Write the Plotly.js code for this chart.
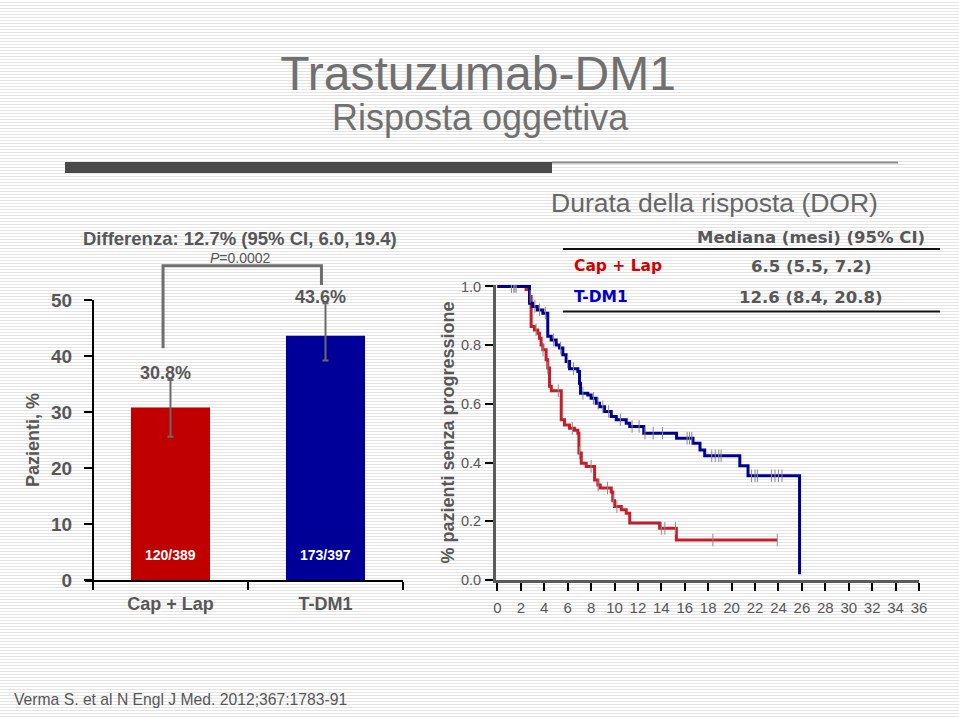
<!DOCTYPE html>
<html><head><meta charset="utf-8">
<script src="https://cdn.plot.ly/plotly-3.0.1.min.js"></script>
<style>
html,body{margin:0;padding:0;background:#fff;}
#chart{width:959px;height:717px;background:repeating-linear-gradient(to bottom,#ffffff 0px,#ffffff 2px,#e4e4e4 2px,#e4e4e4 3px);}
</style></head><body><div id="chart"></div>
<script>
// ---------- data ----------
const barCategories = ['Cap + Lap', 'T-DM1'];
const responseRate = [30.8, 43.6];
const ciUpper = [35.7, 49.4];
const ciLower = [25.6, 39.2];
const responders = [120, 173];
const totals = [389, 397];
const barColors = ['#C00000', '#000099'];
const leftTicks = [0, 10, 20, 30, 40, 50];

const kmGroups = ['Cap + Lap', 'T-DM1'];
const kmColors = ['#C41E2A', '#00008C'];
const kmLegendColors = ['#D40000', '#0000C8'];
const medianMonths = [6.5, 12.6];
const medianCiLow = [5.5, 8.4];
const medianCiHigh = [7.2, 20.8];

const capLapTime = [0, 2.2, 2.45, 2.74, 2.88, 3.16, 3.45, 3.59, 3.73, 3.88, 4.16, 4.3, 4.45, 4.6, 5.45, 5.73, 6.16, 6.58, 6.87, 6.96, 7.16, 7.58, 8.3, 8.58, 8.78, 9.72, 9.85, 10.0, 10.58, 11.0, 11.3, 13.85, 15.28, 23.9];
const capLapSurv = [1.0, 1.0, 0.99, 0.966, 0.864, 0.852, 0.841, 0.824, 0.801, 0.784, 0.75, 0.722, 0.66, 0.645, 0.546, 0.528, 0.517, 0.51, 0.50, 0.433, 0.398, 0.387, 0.341, 0.324, 0.313, 0.30, 0.27, 0.25, 0.239, 0.227, 0.194, 0.176, 0.136, 0.136];
const capLapCensor = [1.2, 1.5, 2.8, 3.3, 3.9, 4.3, 5.2, 6.4, 7.0, 8.0, 8.6, 9.4, 9.9, 10.2, 14.0, 14.3, 15.2, 18.4, 23.9];

const tdm1Time = [0, 2.74, 3.02, 3.4, 3.88, 4.3, 4.59, 5.02, 5.3, 5.59, 5.87, 6.16, 6.87, 7.01, 7.1, 7.72, 8.0, 8.44, 8.72, 9.15, 9.72, 10.15, 11.0, 11.3, 12.5, 15.3, 16.7, 17.3, 17.7, 20.7, 21.4, 25.8];
const tdm1Surv = [1.0, 0.943, 0.932, 0.92, 0.909, 0.83, 0.818, 0.801, 0.79, 0.767, 0.744, 0.72, 0.71, 0.67, 0.636, 0.63, 0.619, 0.602, 0.59, 0.574, 0.557, 0.546, 0.534, 0.523, 0.50, 0.483, 0.466, 0.443, 0.423, 0.389, 0.355, 0.02];
const tdm1Censor = [1.2, 1.4, 1.6, 3.2, 3.6, 4.1, 4.8, 5.4, 6.0, 6.5, 7.3, 8.2, 8.6, 9.0, 9.5, 10.5, 11.5, 12.1, 12.6, 13.3, 14.1, 16.2, 16.4, 16.6, 18.3, 18.6, 18.9, 19.1, 21.7, 22.0, 22.2, 23.4, 23.7, 24.0, 24.3];

const kmMonthTicks = [0, 2, 4, 6, 8, 10, 12, 14, 16, 18, 20, 22, 24, 26, 28, 30, 32, 34, 36];
const kmSurvTicks = [0, 0.2, 0.4, 0.6, 0.8, 1.0];

// ---------- helpers ----------
const W = 959, H = 717;
const px = x => x / W;
const py = y => 1 - y / H;
function stepAt(times, surv, t) {
  let v = surv[0];
  for (let i = 0; i < times.length; i++) { if (times[i] <= t) v = surv[i]; }
  return v;
}
const leftDom = [py(580), py(300)];
const leftY = v => leftDom[0] + v / 50 * (leftDom[1] - leftDom[0]);

const gray = '#575757';
const arial = 'Liberation Sans, Arial, sans-serif';
const verdana = 'DejaVu Sans, Verdana, sans-serif';

// ---------- traces ----------
const traces = [
  {
    type: 'bar', x: [0, 1], y: responseRate, width: 0.51,
    marker: { color: barColors },
    error_y: {
      type: 'data', symmetric: false,
      array: responseRate.map((v, i) => ciUpper[i] - v),
      arrayminus: responseRate.map((v, i) => v - ciLower[i]),
      color: '#6a6a6a', thickness: 2, width: 3
    },
    xaxis: 'x', yaxis: 'y', hoverinfo: 'skip', showlegend: false
  },
  {
    type: 'scatter', mode: 'lines', x: capLapTime, y: capLapSurv,
    line: { shape: 'hv', color: kmColors[0], width: 3 },
    xaxis: 'x2', yaxis: 'y2', name: kmGroups[0], showlegend: false
  },
  {
    type: 'scatter', mode: 'lines', x: tdm1Time, y: tdm1Surv,
    line: { shape: 'hv', color: kmColors[1], width: 3 },
    xaxis: 'x2', yaxis: 'y2', name: kmGroups[1], showlegend: false
  },
  {
    type: 'scatter', mode: 'markers', x: capLapCensor,
    y: capLapCensor.map(t => stepAt(capLapTime, capLapSurv, t)),
    marker: { symbol: 'line-ns', size: 9, line: { color: '#8c8c8c', width: 1 } },
    xaxis: 'x2', yaxis: 'y2', showlegend: false, hoverinfo: 'skip'
  },
  {
    type: 'scatter', mode: 'markers', x: tdm1Censor,
    y: tdm1Censor.map(t => stepAt(tdm1Time, tdm1Surv, t)),
    marker: { symbol: 'line-ns', size: 9, line: { color: '#8c8c8c', width: 1 } },
    xaxis: 'x2', yaxis: 'y2', showlegend: false, hoverinfo: 'skip'
  }
];

// ---------- annotations ----------
const annotations = [
  { text: 'Risposta oggettiva', xref: 'paper', yref: 'paper', x: px(480), y: py(118), xanchor: 'center', yanchor: 'middle', showarrow: false, font: { family: arial, size: 36, color: '#707070' } },
  { text: '<b>Differenza: 12.7% (95% CI, 6.0, 19.4)</b>', xref: 'paper', yref: 'paper', x: px(240), y: py(239), xanchor: 'center', yanchor: 'middle', showarrow: false, font: { family: arial, size: 18.5, color: gray } },
  { text: '<i>P</i>=0.0002', xref: 'paper', yref: 'paper', x: px(240), y: py(258), xanchor: 'center', yanchor: 'middle', showarrow: false, font: { family: arial, size: 14, color: gray } },
  { text: 'Durata della risposta (DOR)', xref: 'paper', yref: 'paper', x: px(714), y: py(203), xanchor: 'center', yanchor: 'middle', showarrow: false, font: { family: arial, size: 26.5, color: '#666' } },
  { text: '<b>Mediana (mesi) (95% CI)</b>', xref: 'paper', yref: 'paper', x: px(811), y: py(238), xanchor: 'center', yanchor: 'middle', showarrow: false, font: { family: verdana, size: 16.5, color: gray } },
  { text: 'Verma S. et al N Engl J Med. 2012;367:1783-91', xref: 'paper', yref: 'paper', x: px(12), y: py(699), xanchor: 'left', yanchor: 'middle', showarrow: false, font: { family: arial, size: 15.7, color: gray } }
];
responseRate.forEach((v, i) => {
  annotations.push({ text: '<b>' + v.toFixed(1) + '%</b>', xref: 'x', yref: 'paper', x: i - 0.03, y: leftY(ciUpper[i] + 1.2), xanchor: 'center', yanchor: 'middle', showarrow: false, font: { family: arial, size: 18, color: gray } });
  annotations.push({ text: '<b>' + responders[i] + '/' + totals[i] + '</b>', xref: 'x', yref: 'paper', x: i, y: leftY(4.5), xanchor: 'center', yanchor: 'middle', showarrow: false, font: { family: arial, size: 14, color: '#ffffff' } });
});
const rowY = [266, 297];
kmGroups.forEach((g, i) => {
  annotations.push({ text: '<b>' + g + '</b>', xref: 'paper', yref: 'paper', x: px(572), y: py(rowY[i]), xanchor: 'left', yanchor: 'middle', showarrow: false, font: { family: verdana, size: 15.5, color: kmLegendColors[i] } });
  annotations.push({ text: '<b>' + medianMonths[i].toFixed(1) + ' (' + medianCiLow[i].toFixed(1) + ', ' + medianCiHigh[i].toFixed(1) + ')</b>', xref: 'paper', yref: 'paper', x: px(811), y: py(rowY[i]), xanchor: 'center', yanchor: 'middle', showarrow: false, font: { family: verdana, size: 16.5, color: gray } });
});

// ---------- shapes ----------
const bL = -0.048, bR = 0.974;
const shapes = [
  { type: 'rect', xref: 'paper', yref: 'paper', x0: px(65), x1: px(552), y0: py(173), y1: py(162), fillcolor: '#4a4a4a', line: { width: 0 } },
  { type: 'line', xref: 'paper', yref: 'paper', x0: px(552), x1: px(898), y0: py(162.5), y1: py(162.5), line: { color: '#8c8c8c', width: 2 } },
  { type: 'line', xref: 'paper', yref: 'paper', x0: px(563), x1: px(940), y0: py(249), y1: py(249), line: { color: '#111', width: 2 } },
  { type: 'line', xref: 'paper', yref: 'paper', x0: px(563), x1: px(940), y0: py(311.5), y1: py(311.5), line: { color: '#111', width: 2 } },
  { type: 'path', xref: 'x', yref: 'paper',
    path: 'M ' + bL + ' ' + leftY(41.4) + ' L ' + bL + ' ' + leftY(56.1) + ' L ' + bR + ' ' + leftY(56.1) + ' L ' + bR + ' ' + leftY(52.7),
    line: { color: '#6e6e6e', width: 3 } }
];

// ---------- layout ----------
const layout = {
  width: W, height: H, autosize: false,
  margin: { l: 0, r: 0, t: 0, b: 0 },
  paper_bgcolor: 'rgba(0,0,0,0)', plot_bgcolor: 'rgba(0,0,0,0)',
  showlegend: false,
  title: { text: 'Trastuzumab-DM1', x: px(478), xanchor: 'center', xref: 'paper', y: py(73), yanchor: 'middle', yref: 'paper', font: { family: arial, size: 48, color: '#707070' } },
  xaxis: {
    domain: [px(85), px(403)], range: [-0.5 - 8 / 155.5, 1.5], anchor: 'y',
    tickvals: [0, 1], ticktext: barCategories, ticks: '', ticklabelstandoff: 6,
    tickfont: { family: arial, size: 18, color: gray, weight: 'bold' },
    minor: { tickvals: [-0.5, 0.5, 1.5], ticks: 'outside', ticklen: 8, tickwidth: 2, tickcolor: '#000', showgrid: false },
    showline: true, linecolor: '#000', linewidth: 2, showgrid: false, zeroline: false, fixedrange: true
  },
  yaxis: {
    domain: leftDom, range: [0, 50], anchor: 'free', position: px(93),
    tickvals: leftTicks, ticks: 'outside', ticklen: 8, tickwidth: 2, tickcolor: '#000', ticklabelstandoff: 8,
    tickfont: { family: arial, size: 19, color: gray, weight: 'bold' },
    showline: true, linecolor: '#000', linewidth: 2, showgrid: false, zeroline: false, fixedrange: true,
    title: { text: 'Pazienti, %', standoff: 6, font: { family: arial, size: 18, color: gray, weight: 'bold' } }
  },
  xaxis2: {
    domain: [px(496), px(919)], range: [-0.12, 36], anchor: 'y2',
    tickvals: kmMonthTicks, ticks: 'outside', ticklen: 8, tickwidth: 2, tickcolor: '#000', ticklabelstandoff: 4,
    tickfont: { family: arial, size: 15, color: gray },
    showline: true, linecolor: '#5a5a5a', linewidth: 3, showgrid: false, zeroline: false, fixedrange: true
  },
  yaxis2: {
    domain: [py(580), py(285)], range: [0, 1.005], anchor: 'x2',
    tickvals: kmSurvTicks, tickformat: '.1f', ticks: 'outside', ticklen: 8, tickwidth: 2, tickcolor: '#000', ticklabelstandoff: 1,
    tickfont: { family: arial, size: 14.5, color: gray },
    showline: true, linecolor: '#5a5a5a', linewidth: 3, showgrid: false, zeroline: false, fixedrange: true,
    title: { text: '% pazienti senza progressione', standoff: 2, font: { family: arial, size: 18, color: gray, weight: 'bold' } }
  },
  annotations: annotations,
  shapes: shapes
};

Plotly.newPlot('chart', traces, layout, { staticPlot: true, displayModeBar: false });
</script></body></html>
